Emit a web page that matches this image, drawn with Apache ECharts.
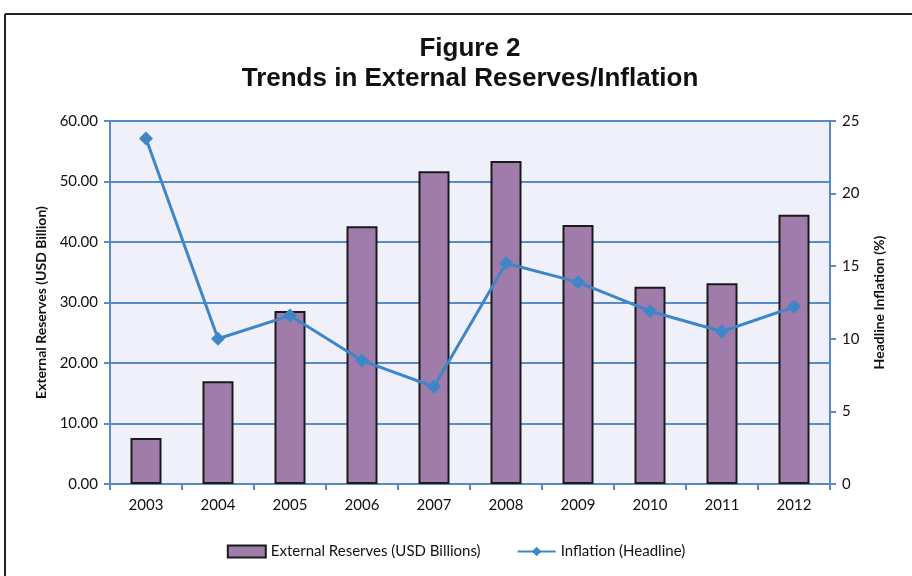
<!DOCTYPE html>
<html>
<head>
<meta charset="utf-8">
<script src="https://cdn.jsdelivr.net/npm/echarts@6/dist/echarts.min.js"></script>
<style>
  html, body { margin: 0; padding: 0; background: #ffffff; }
  #chart { width: 912px; height: 576px; }
</style>
</head>
<body>
<div id="chart"></div>
<script>
// Years on the category axis
const years = ['2003', '2004', '2005', '2006', '2007', '2008', '2009', '2010', '2011', '2012'];
// External reserves, USD billion (left axis)
const reserves = [7.6, 17.0, 28.6, 42.6, 51.7, 53.4, 42.8, 32.6, 33.2, 44.5];
// Headline inflation, percent (right axis)
const inflation = [23.8, 10.0, 11.6, 8.5, 6.7, 15.2, 13.9, 11.9, 10.5, 12.2];

const axisBlue = '#5a8ac4';
const lineBlue = '#3f86c8';
const labelFont = 'Lato, "Open Sans", sans-serif';

const chart = echarts.init(document.getElementById('chart'));
chart.setOption({
  backgroundColor: '#ffffff',
  animation: false,
  title: {
    text: 'Figure 2\nTrends in External Reserves/Inflation',
    left: 465,
    textAlign: 'center',
    top: 29,
    textStyle: {
      fontFamily: '"Liberation Sans", Arial, sans-serif',
      fontWeight: 'bold',
      fontSize: 26,
      lineHeight: 30,
      color: '#111'
    }
  },
  graphic: [
    { type: 'line', shape: { x1: 5, y1: 14, x2: 912, y2: 14 }, style: { stroke: '#222', lineWidth: 2 } },
    { type: 'line', shape: { x1: 5, y1: 14, x2: 5, y2: 576 }, style: { stroke: '#222', lineWidth: 2 } }
  ],
  grid: {
    left: 110, right: 82, top: 121, bottom: 92,
    show: true, backgroundColor: '#eff0f9', borderWidth: 0
  },
  legend: {
    bottom: 12,
    left: 'center',
    itemGap: 36,
    itemWidth: 38,
    itemHeight: 12,
    textStyle: { fontFamily: labelFont, fontSize: 15, color: '#111' },
    data: [
      { name: 'External Reserves (USD Billions)', icon: 'rect' },
      { name: 'Inflation (Headline)' }
    ]
  },
  xAxis: {
    type: 'category',
    data: years,
    boundaryGap: true,
    axisLine: { lineStyle: { color: axisBlue, width: 2 } },
    axisTick: { show: true, alignWithLabel: false, length: 6, lineStyle: { color: axisBlue, width: 2 } },
    axisLabel: { color: '#111', fontFamily: labelFont, fontSize: 15, margin: 14 }
  },
  yAxis: [
    {
      type: 'value',
      min: 0, max: 60, interval: 10,
      name: 'External Reserves (USD Billion)',
      nameLocation: 'middle',
      nameGap: 60,
      nameRotate: 90,
      nameTextStyle: { fontFamily: labelFont, fontWeight: 'bold', fontSize: 14, color: '#111' },
      axisLine: { show: true, lineStyle: { color: axisBlue, width: 2 } },
      axisTick: { show: true, length: 6, lineStyle: { color: axisBlue, width: 2 } },
      axisLabel: {
        color: '#111', fontFamily: labelFont, fontSize: 15, margin: 12,
        formatter: v => v.toFixed(2)
      },
      splitLine: { show: true, lineStyle: { color: axisBlue, width: 2 } }
    },
    {
      type: 'value',
      min: 0, max: 25, interval: 5,
      position: 'right',
      name: 'Headline Inflation (%)',
      nameLocation: 'middle',
      nameGap: 42,
      nameRotate: 90,
      nameTextStyle: { fontFamily: labelFont, fontWeight: 'bold', fontSize: 14, color: '#111' },
      axisLine: { show: true, lineStyle: { color: axisBlue, width: 2 } },
      axisTick: { show: true, length: 6, lineStyle: { color: axisBlue, width: 2 } },
      axisLabel: { color: '#111', fontFamily: labelFont, fontSize: 15, margin: 12 },
      splitLine: { show: false }
    }
  ],
  series: [
    {
      name: 'External Reserves (USD Billions)',
      type: 'bar',
      yAxisIndex: 0,
      data: reserves,
      barWidth: 31,
      itemStyle: { color: '#9f7ca9', borderColor: '#1a1a1a', borderWidth: 2 }
    },
    {
      name: 'Inflation (Headline)',
      type: 'line',
      yAxisIndex: 1,
      data: inflation,
      symbol: 'diamond',
      symbolSize: 14,
      lineStyle: { color: lineBlue, width: 3 },
      itemStyle: { color: lineBlue }
    }
  ]
});
</script>
</body>
</html>
